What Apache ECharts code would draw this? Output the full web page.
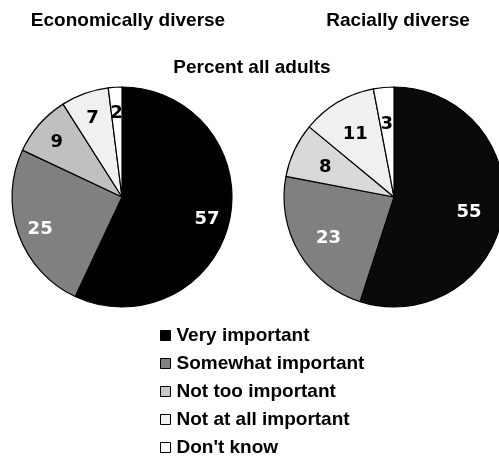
<!DOCTYPE html>
<html><head><meta charset="utf-8">
<script src="https://cdn.jsdelivr.net/npm/echarts@6/dist/echarts.min.js"></script>
<style>html,body{margin:0;padding:0;background:#fff}#c{width:499px;height:456px}</style>
</head><body><div id="c"></div>
<script>
const categories = ['Very important','Somewhat important','Not too important','Not at all important',"Don't know"];
const economicValues = [57, 25, 9, 7, 2];
const racialValues = [55, 23, 8, 11, 3];
const pieTitles = ['Economically diverse', 'Racially diverse'];
const subtitle = 'Percent all adults';

const leftColors = ['#000000','#808080','#c0c0c0','#f0f0f0','#ffffff'];
const rightColors = ['#0a0a0a','#808080','#d9d9d9','#f0f0f0','#ffffff'];
const legendColors = ['#000000','#808080','#c8c8c8','#f0f0f0','#ffffff'];
const labelFont = 'DejaVu Sans';
const textFont = 'Liberation Sans';

function pieSeries(values, colors, center) {
  return {
    type: 'pie', center: center, radius: 110, startAngle: 90, clockwise: true,
    silent: true, animation: false,
    label: {show: false}, labelLine: {show: false},
    itemStyle: {borderColor: '#000', borderWidth: 1.2},
    data: categories.map((c, i) => ({name: c, value: values[i], itemStyle: {color: colors[i]}}))
  };
}
function labelSeries(values, center, inner) {
  return {
    type: 'pie', center: center, radius: [inner, 110], startAngle: 90, clockwise: true,
    silent: true, animation: false, legendHoverLink: false,
    itemStyle: {color: 'rgba(0,0,0,0)', borderWidth: 0},
    labelLine: {show: false},
    label: {show: true, position: 'inside', formatter: '{c}', offset: [0, 3], fontFamily: labelFont, fontWeight: 'bold', fontSize: 18, color: '#000'},
    data: categories.map((c, i) => ({name: c, value: values[i], label: {color: i < 2 ? '#fff' : '#000'}}))
  };
}

const titleStyle = {fontFamily: textFont, fontWeight: 'bold', fontSize: 19, color: '#000'};
const chart = echarts.init(document.getElementById('c'), null, {renderer: 'canvas'});
chart.setOption({
  animation: false,
  title: [
    {text: pieTitles[0], left: 128, top: 11, padding: 0, textAlign: 'center', textStyle: titleStyle},
    {text: pieTitles[1], left: 398, top: 11, padding: 0, textAlign: 'center', textStyle: titleStyle},
    {text: subtitle, left: 252, top: 58, padding: 0, textAlign: 'center', textStyle: titleStyle}
  ],
  legend: {
    orient: 'vertical', left: 160, top: 326, height: 300, padding: 0,
    itemWidth: 10, itemHeight: 10, itemGap: 9,
    icon: 'rect', selectedMode: false,
    textStyle: {fontFamily: textFont, fontWeight: 'bold', fontSize: 19, color: '#000', padding: [0,0,0,1]},
    data: categories.map((c, i) => ({name: c, itemStyle: {color: legendColors[i], borderColor: '#000', borderWidth: 1}}))
  },
  series: [
    pieSeries(economicValues, leftColors, [122, 197]),
    pieSeries(racialValues, rightColors, [394, 197]),
    labelSeries(economicValues, [122, 197], 58),
    labelSeries(racialValues, [394, 197], 36)
  ]
});
</script></body></html>
